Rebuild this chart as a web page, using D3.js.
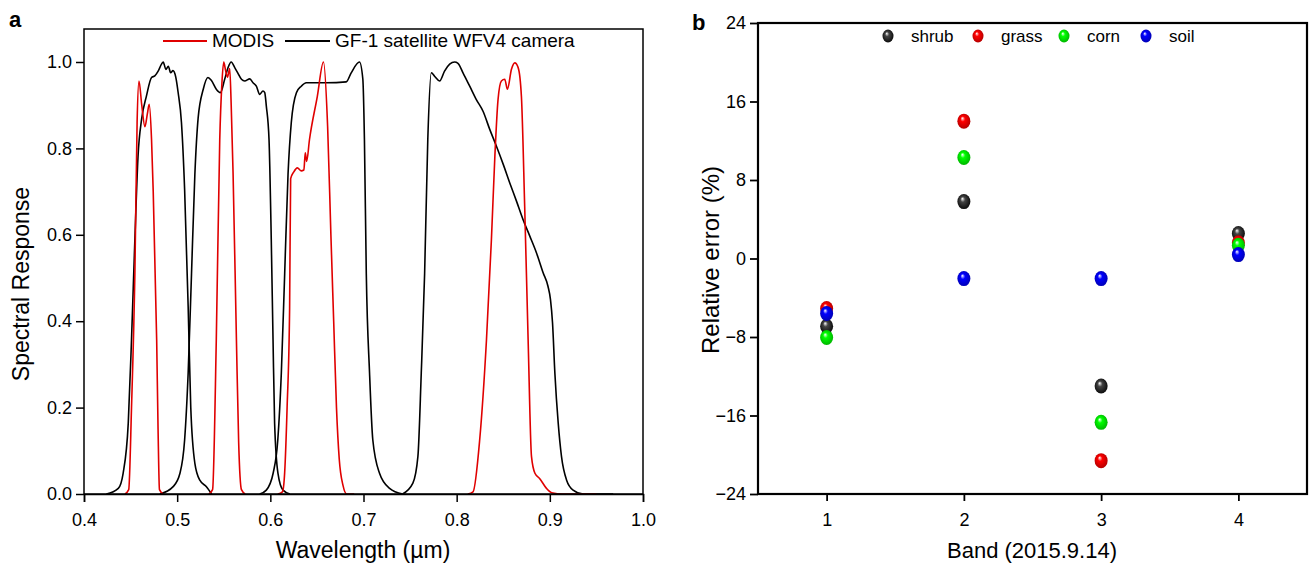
<!doctype html>
<html lang="en">
  <head>
    <meta charset="utf-8">
    <script src="https://d3js.org/d3.v7.min.js"></script>
    <title>Spectral response and relative error</title>
    <style>
      body { margin: 0; background: #fff; }
      text { font-family: "Liberation Sans", Arial, sans-serif; fill: #000; }
      .curve { fill: none; stroke-width: 1.6px; stroke-linejoin: round; }
      .axis path, .axis line { stroke: #000; }
    </style>
  </head>
  <body>
    <svg width="1309" height="565"></svg>
    <script>
      // ---- panel a: spectral response functions [wavelength (um), response]
      const modisBlue = [[0.444, 0], [0.448, 0.01], [0.451, 0.2], [0.4546, 0.51], [0.457, 0.86], [0.459, 0.956],
        [0.462, 0.9], [0.4654, 0.85], [0.468, 0.88], [0.470, 0.902], [0.4725, 0.82], [0.4743, 0.70],
        [0.478, 0.357], [0.4795, 0.15], [0.481, 0.01], [0.485, 0]];
      const modisGreen = [[0.534, 0], [0.538, 0.01], [0.542, 0.357], [0.5457, 0.82], [0.548, 0.95], [0.550, 1.0],
        [0.552, 0.98], [0.554, 0.965], [0.5564, 0.985], [0.558, 0.9], [0.560, 0.743], [0.5636, 0.357],
        [0.566, 0.12], [0.569, 0.01], [0.573, 0]];
      const modisRed = [[0.608, 0], [0.613, 0.005], [0.6154, 0.05], [0.618, 0.2], [0.6207, 0.43], [0.6218, 0.73],
        [0.625, 0.745], [0.629, 0.755], [0.633, 0.748], [0.636, 0.75], [0.6375, 0.79], [0.639, 0.77],
        [0.642, 0.82], [0.6504, 0.92], [0.657, 1.0], [0.6615, 0.85], [0.665, 0.6], [0.668, 0.4],
        [0.671, 0.2], [0.674, 0.08], [0.678, 0.02], [0.682, 0], [0.69, 0]];
      const modisNir = [[0.812, 0], [0.8176, 0.005], [0.8247, 0.125], [0.832, 0.357], [0.8373, 0.589], [0.841, 0.782],
        [0.8444, 0.913], [0.848, 0.956], [0.8516, 0.96], [0.8545, 0.937], [0.8588, 0.983], [0.8624, 0.998],
        [0.866, 0.987], [0.8695, 0.92], [0.873, 0.666], [0.8767, 0.357], [0.8803, 0.087], [0.884, 0.048],
        [0.889, 0.036], [0.8964, 0.013], [0.902, 0.003], [0.914, 0], [0.95, 0]];

      const wfvBlue = [[0.424, 0], [0.4368, 0.013], [0.442, 0.048], [0.4475, 0.164], [0.451, 0.357], [0.4546, 0.589],
        [0.458, 0.782], [0.4618, 0.867], [0.467, 0.921], [0.4725, 0.964], [0.476, 0.968], [0.4796, 0.979],
        [0.4832, 0.995], [0.485, 1.0], [0.4879, 0.983], [0.4905, 0.99], [0.493, 0.975], [0.4955, 0.98],
        [0.4985, 0.965], [0.501, 0.93], [0.5046, 0.86], [0.508, 0.705], [0.5118, 0.434], [0.5146, 0.2],
        [0.519, 0.071], [0.5243, 0.032], [0.5314, 0.017], [0.537, 0]];
      const wfvGreen = [[0.4814, 0], [0.4957, 0.017], [0.503, 0.048], [0.508, 0.125], [0.5118, 0.28], [0.5154, 0.51],
        [0.519, 0.74], [0.5225, 0.87], [0.528, 0.937], [0.533, 0.964], [0.5368, 0.957], [0.542, 0.937],
        [0.5464, 0.929], [0.551, 0.96], [0.5546, 0.987], [0.558, 1.0], [0.5618, 0.987], [0.565, 0.975],
        [0.569, 0.96], [0.5725, 0.956], [0.578, 0.961], [0.5814, 0.952], [0.585, 0.944], [0.5886, 0.925],
        [0.5921, 0.933], [0.594, 0.929], [0.5957, 0.898], [0.5986, 0.82], [0.601, 0.589], [0.6029, 0.357],
        [0.6046, 0.164], [0.6082, 0.048], [0.6136, 0.009], [0.621, 0]];
      const wfvRed = [[0.5886, 0], [0.5957, 0.009], [0.603, 0.048], [0.608, 0.125], [0.6118, 0.28], [0.6154, 0.51],
        [0.619, 0.74], [0.6225, 0.86], [0.628, 0.929], [0.6332, 0.944], [0.6386, 0.952], [0.66, 0.952],
        [0.6814, 0.954], [0.6868, 0.975], [0.6957, 1.0], [0.6993, 0.96], [0.701, 0.82], [0.703, 0.51],
        [0.7065, 0.28], [0.71, 0.125], [0.7172, 0.048], [0.728, 0.013], [0.742, 0]];
      const wfvNir = [[0.742, 0], [0.753, 0.025], [0.7584, 0.087], [0.762, 0.28], [0.7656, 0.51], [0.769, 0.82],
        [0.7728, 0.975], [0.7763, 0.967], [0.7817, 0.956], [0.787, 0.979], [0.7925, 0.995], [0.7978, 1.0],
        [0.8014, 0.997], [0.8068, 0.975], [0.814, 0.944], [0.8211, 0.913], [0.8283, 0.886], [0.8355, 0.844],
        [0.8427, 0.805], [0.85, 0.763], [0.857, 0.72], [0.8642, 0.678], [0.8713, 0.635], [0.8785, 0.597],
        [0.8857, 0.558], [0.8928, 0.512], [0.898, 0.481], [0.9007, 0.45], [0.9029, 0.396], [0.9054, 0.28],
        [0.909, 0.164], [0.9125, 0.087], [0.918, 0.032], [0.925, 0.009], [0.9358, 0], [0.968, 0]];

      const wlTicks = [0.4, 0.5, 0.6, 0.7, 0.8, 0.9, 1.0];
      const respTicks = [0.0, 0.2, 0.4, 0.6, 0.8, 1.0];

      // ---- panel b: relative error (%) per band
      const bands = [1, 2, 3, 4];
      const shrub = [-6.9, 5.8, -13.0, 2.55];
      const grass = [-5.1, 14.0, -20.6, 1.6];
      const corn = [-8.05, 10.3, -16.7, 1.35];
      const soil = [-5.6, -2.05, -2.05, 0.4];
      const errTicks = [-24, -16, -8, 0, 8, 16, 24];

      const svg = d3.select("svg");

      // ================= panel a =================
      const xa = d3.scaleLinear().domain([0.4, 1.0]).range([84, 643]);
      const ya = d3.scaleLinear().domain([0, 1]).range([494, 62]);
      const topA = 29;

      const ga = svg.append("g");
      const line = d3.line().x(d => xa(d[0])).y(d => ya(d[1])).curve(d3.curveMonotoneX);

      [wfvBlue, wfvGreen, wfvRed, wfvNir].forEach(s => {
        ga.append("path").attr("class", "curve").attr("stroke", "#000").attr("d", line(s));
      });
      [modisBlue, modisGreen, modisRed, modisNir].forEach(s => {
        ga.append("path").attr("class", "curve").attr("stroke", "#e00000").attr("d", line(s));
      });

      // frame
      ga.append("rect").attr("x", 84).attr("y", topA).attr("width", 643 - 84).attr("height", 494 - topA)
        .attr("fill", "none").attr("stroke", "#000").attr("stroke-width", 1.5);

      ga.append("g").attr("class", "axis").attr("transform", "translate(0,494)")
        .call(d3.axisBottom(xa).tickValues(wlTicks).tickFormat(d3.format(".1f")).tickSize(8).tickPadding(11))
        .call(g => g.select(".domain").attr("stroke-width", 1.5))
        .call(g => g.selectAll("line").attr("stroke-width", 1.5))
        .call(g => g.selectAll("text").attr("font-size", 18));

      ga.append("g").attr("class", "axis").attr("transform", "translate(84,0)")
        .call(d3.axisLeft(ya).tickValues(respTicks).tickFormat(d3.format(".1f")).tickSize(8).tickPadding(4))
        .call(g => g.select(".domain").remove())
        .call(g => g.selectAll("line").attr("stroke-width", 1.5))
        .call(g => g.selectAll("text").attr("font-size", 18));

      ga.append("text").attr("x", 363).attr("y", 558).attr("text-anchor", "middle")
        .attr("font-size", 23).text("Wavelength (\u00b5m)");
      ga.append("text").attr("transform", "translate(29,284) rotate(-90)").attr("text-anchor", "middle")
        .attr("font-size", 23).text("Spectral Response");
      ga.append("text").attr("x", 9).attr("y", 27).attr("font-size", 22).attr("font-weight", "bold").text("a");

      // legend a
      const legA = ga.append("g");
      legA.append("line").attr("x1", 163).attr("x2", 207).attr("y1", 41).attr("y2", 41)
        .attr("stroke", "#e00000").attr("stroke-width", 2);
      legA.append("text").attr("x", 212).attr("y", 47).attr("font-size", 19).text("MODIS");
      legA.append("line").attr("x1", 285).attr("x2", 330).attr("y1", 41).attr("y2", 41)
        .attr("stroke", "#000").attr("stroke-width", 2);
      legA.append("text").attr("x", 335).attr("y", 47).attr("font-size", 19).text("GF-1 satellite WFV4 camera");

      // ================= panel b =================
      const xb = d3.scaleLinear().domain([0.5, 4.5]).range([758, 1307]);
      const yb = d3.scaleLinear().domain([-24, 24]).range([494, 23]);

      const gb = svg.append("g");

      const series = [
        { name: "shrub", color: "#000000", values: shrub },
        { name: "grass", color: "#ff0000", values: grass },
        { name: "corn", color: "#00ff00", values: corn },
        { name: "soil", color: "#0000ff", values: soil }
      ];

      const defs = svg.append("defs");
      series.forEach(s => {
        const grad = defs.append("radialGradient").attr("id", "ball-" + s.name)
          .attr("cx", "50%").attr("cy", "50%").attr("r", "60%").attr("fx", "38%").attr("fy", "30%");
        grad.append("stop").attr("offset", "0%").attr("stop-color", "#fff");
        grad.append("stop").attr("offset", "30%").attr("stop-color", s.name === "shrub" ? "#444" : s.color);
        grad.append("stop").attr("offset", "100%").attr("stop-color", d3.color(s.color).darker(1.2));
      });

      gb.append("rect").attr("x", 758).attr("y", 23).attr("width", 1307 - 758).attr("height", 494 - 23)
        .attr("fill", "none").attr("stroke", "#000").attr("stroke-width", 2.2);

      gb.append("g").attr("class", "axis").attr("transform", "translate(0,494)")
        .call(d3.axisBottom(xb).tickValues(bands).tickFormat(d3.format("d")).tickSize(7).tickPadding(12))
        .call(g => g.select(".domain").remove())
        .call(g => g.selectAll("line").attr("stroke-width", 1.8))
        .call(g => g.selectAll("text").attr("font-size", 18));

      gb.append("g").attr("class", "axis").attr("transform", "translate(758,0)")
        .call(d3.axisLeft(yb).tickValues(errTicks).tickSize(8).tickPadding(4))
        .call(g => g.select(".domain").remove())
        .call(g => g.selectAll("line").attr("stroke-width", 1.8))
        .call(g => g.selectAll("text").attr("font-size", 18));

      gb.append("text").attr("x", 1032).attr("y", 558).attr("text-anchor", "middle")
        .attr("font-size", 22).text("Band (2015.9.14)");
      gb.append("text").attr("transform", "translate(719,260) rotate(-90)").attr("text-anchor", "middle")
        .attr("font-size", 24).text("Relative error (%)");
      gb.append("text").attr("x", 692).attr("y", 30).attr("font-size", 22).attr("font-weight", "bold").text("b");

      series.forEach(s => {
        gb.append("g").selectAll("ellipse")
          .data(bands.map((b, i) => ({ band: b, value: s.values[i] })))
          .enter().append("ellipse")
          .attr("cx", d => xb(d.band))
          .attr("cy", d => yb(d.value))
          .attr("rx", 6.5).attr("ry", 7.5)
          .attr("fill", "url(#ball-" + s.name + ")");
      });

      // legend b
      const legPos = [888, 978, 1064, 1146];
      const legB = gb.append("g");
      series.forEach((s, i) => {
        legB.append("ellipse").attr("cx", legPos[i]).attr("cy", 36).attr("rx", 5.5).attr("ry", 6.5)
          .attr("fill", "url(#ball-" + s.name + ")");
        legB.append("text").attr("x", legPos[i] + 23).attr("y", 42)
          .attr("font-size", 17).text(s.name);
      });
    </script>
  </body>
</html>
